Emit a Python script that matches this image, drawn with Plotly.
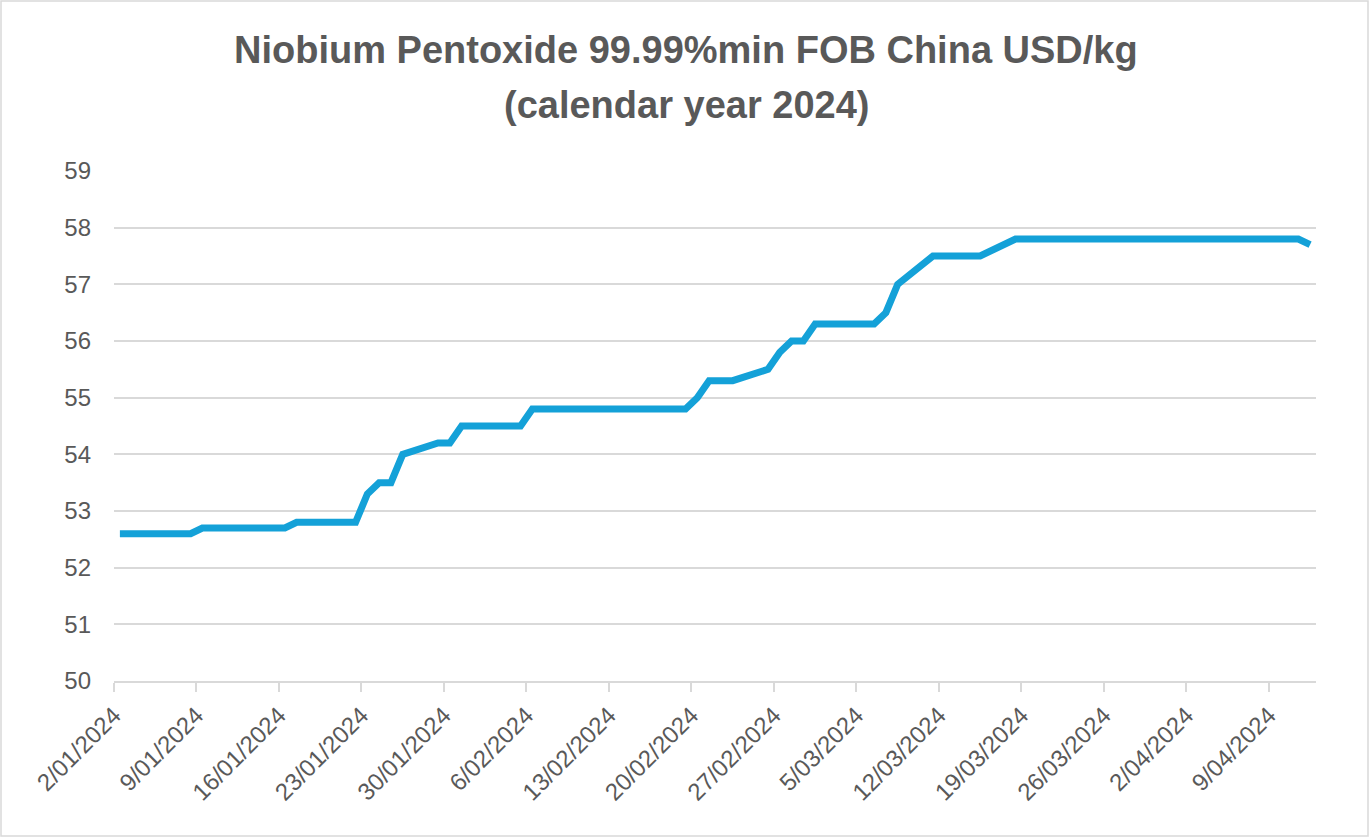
import pandas as pd
import plotly.graph_objects as go

# ---- data ----
title_line1 = "Niobium Pentoxide 99.99%min FOB China USD/kg"
title_line2 = "(calendar year 2024)"

dates = pd.bdate_range("2024-01-02", "2024-04-12")  # business days

prices = [
    52.6, 52.6, 52.6, 52.6,               # 2-5 Jan
    52.6, 52.7, 52.7, 52.7, 52.7,         # 8-12 Jan
    52.7, 52.7, 52.8, 52.8, 52.8,         # 15-19 Jan
    52.8, 53.3, 53.5, 53.5, 54.0,         # 22-26 Jan
    54.2, 54.2, 54.5, 54.5, 54.5,         # 29 Jan - 2 Feb
    54.5, 54.8, 54.8, 54.8, 54.8,         # 5-9 Feb
    54.8, 54.8, 54.8, 54.8, 54.8,         # 12-16 Feb
    54.8, 55.0, 55.3, 55.3, 55.3,         # 19-23 Feb
    55.5, 55.8, 56.0, 56.0, 56.3,         # 26 Feb - 1 Mar
    56.3, 56.3, 56.3, 56.5, 57.0,         # 4-8 Mar
    57.5, 57.5, 57.5, 57.5, 57.5,         # 11-15 Mar
    57.8, 57.8, 57.8, 57.8, 57.8,         # 18-22 Mar
    57.8, 57.8, 57.8, 57.8, 57.8,         # 25-29 Mar
    57.8, 57.8, 57.8, 57.8, 57.8,         # 1-5 Apr
    57.8, 57.8, 57.8, 57.8, 57.7,         # 8-12 Apr
]

y_min, y_max, y_step = 50, 59, 1
axis_start = "2024-01-02"
axis_end = "2024-04-13"

# ---- styling ----
W, H = 1370, 838
ML, MR, MT, MB = 114, 54, 171, 157
grey_text = "#595959"
grid = "#d9d9d9"
line_color = "#14a1d8"
FONT = "Liberation Sans, Arial, sans-serif"

# Excel date axis: each point sits in the middle of its day
x_pts = dates + pd.Timedelta(hours=12)

fig = go.Figure()
fig.add_trace(go.Scatter(
    x=x_pts, y=prices, mode="lines",
    line=dict(color=line_color, width=7),
    hoverinfo="x+y", showlegend=False,
))

plot_w = W - ML - MR
plot_h = H - MT - MB

def py(pix):
    return (H - MB - pix) / plot_h

def px(pix):
    return (pix - ML) / plot_w

for txt, ypix in [(title_line1, 50), (title_line2, 105)]:
    fig.add_annotation(text="<b>" + txt + "</b>", xref="paper", yref="paper",
                       x=px(W / 2 + 1), y=py(ypix), showarrow=False,
                       xanchor="center", yanchor="middle",
                       font=dict(family=FONT, size=38, color=grey_text))

# outer chart border
fig.add_shape(type="rect", xref="paper", yref="paper",
              x0=px(1), x1=px(W - 2),
              y0=py(H - 2), y1=py(1),
              line=dict(color=grid, width=1.5), layer="below")

fig.update_layout(
    width=W, height=H,
    margin=dict(l=ML, r=MR, t=MT, b=MB),
    paper_bgcolor="white", plot_bgcolor="white",
    font=dict(family=FONT, size=24, color=grey_text),
)
fig.update_xaxes(
    type="date", range=[axis_start, axis_end],
    tick0=axis_start, dtick=7 * 86400000, tickformat="%-d/%m/%Y",
    tickangle=-45, ticks="outside", ticklen=9, tickwidth=1.5, tickcolor=grid,
    showline=True, linecolor=grid, linewidth=1.5,
    showgrid=False, zeroline=False,
    tickfont=dict(size=24, color=grey_text),
)
fig.update_yaxes(
    range=[y_min, y_max], dtick=y_step, tick0=y_min,
    showgrid=True, gridcolor=grid, gridwidth=1.5,
    zeroline=False, showline=False, ticks="",
    ticklabelstandoff=22,
    tickfont=dict(size=24, color=grey_text),
)

fig.write_html("out.html", config={"displayModeBar": False},
               post_script="document.body.style.margin='0';")
